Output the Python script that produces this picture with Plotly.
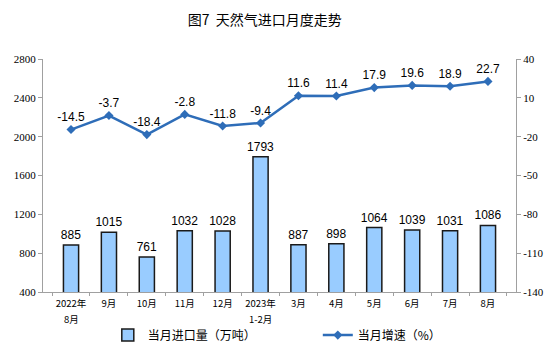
import plotly.graph_objects as go

categories = ["2022年8月", "9月", "10月", "11月", "12月", "2023年1-2月",
              "3月", "4月", "5月", "6月", "7月", "8月"]
tick_line1 = ["2022年", "9月", "10月", "11月", "12月", "2023年",
              "3月", "4月", "5月", "6月", "7月", "8月"]
tick_line2 = ["8月", "", "", "", "", "1-2月", "", "", "", "", "", ""]
volume = [885, 1015, 761, 1032, 1028, 1793, 887, 898, 1064, 1039, 1031, 1086]
growth = [-14.5, -3.7, -18.4, -2.8, -11.8, -9.4, 11.6, 11.4, 17.9, 19.6, 18.9, 22.7]
left_ticks = [400, 800, 1200, 1600, 2000, 2400, 2800]
right_ticks = [-140, -110, -80, -50, -20, 10, 40]

line_color = "#2E6DB8"

fig = go.Figure()
fig.add_trace(go.Bar(
    x=categories, y=volume, name="当月进口量（万吨）",
    marker=dict(color="#99CCFF", line=dict(color="#1a1a1a", width=1.5)),
    width=0.4,
    text=[str(v) for v in volume], textposition="outside",
    textfont=dict(family="Liberation Sans", size=12, color="#000"),
    constraintext="none",
    cliponaxis=False,
))
fig.add_trace(go.Scatter(
    x=categories, y=growth, name="当月增速（%）", yaxis="y2",
    mode="lines+markers+text",
    line=dict(color=line_color, width=2.5),
    marker=dict(symbol="diamond", size=7, color=line_color),
    text=[f"{v:.1f}" for v in growth], textposition="top center",
    textfont=dict(family="Liberation Sans", size=12, color="#000"),
    cliponaxis=False,
))

for cat, t2 in zip(categories, tick_line2):
    if t2:
        fig.add_annotation(x=cat, xref="x", y=0, yref="paper", yanchor="top",
                           yshift=-18, text=t2, showarrow=False,
                           font=dict(family="Noto Sans CJK SC", size=9.5, color="#000"))

fig.update_layout(
    width=554, height=357,
    margin=dict(l=43, r=38, t=59, b=65, autoexpand=False),
    plot_bgcolor="white", paper_bgcolor="white",
    title=dict(text="图7  天然气进口月度走势", x=0.478, xanchor="center", y=0.945, yanchor="middle",
               font=dict(family="Noto Sans CJK SC", size=14, color="#000")),
    xaxis=dict(
        tickvals=categories, ticktext=tick_line1,
        showline=True, linecolor="#a0a0a0", linewidth=1,
        ticks="outside", tickson="boundaries", ticklen=3, tickcolor="#a0a0a0",
        tickangle=0, ticklabelstandoff=3,
        tickfont=dict(family="Noto Sans CJK SC", size=9.5, color="#000"),
        showgrid=False,
    ),
    yaxis=dict(
        range=[400, 2800], tickvals=left_ticks, ticktext=[str(v) for v in left_ticks],
        showline=True, linecolor="#a0a0a0", linewidth=1,
        ticks="outside", ticklen=4, tickcolor="#a0a0a0",
        tickfont=dict(family="Liberation Serif", size=11, color="#000"),
        showgrid=False, zeroline=False,
    ),
    yaxis2=dict(
        range=[-140, 40], tickvals=right_ticks, ticktext=[str(v) for v in right_ticks],
        overlaying="y", side="right",
        showline=True, linecolor="#a0a0a0", linewidth=1,
        ticks="outside", ticklen=4, tickcolor="#a0a0a0",
        tickfont=dict(family="Liberation Serif", size=11, color="#000"),
        showgrid=False, zeroline=False,
    ),
    legend=dict(
        orientation="h", x=0.137, xanchor="left", y=-0.185, yanchor="middle",
        entrywidth=165, entrywidthmode="pixels",
        font=dict(family="Noto Sans CJK SC", size=12, color="#000"),
    ),
    showlegend=True,
    bargap=0.6,
)

fig.write_html("out.html", config={"displayModeBar": False},
               post_script="document.body.style.margin='0';")
